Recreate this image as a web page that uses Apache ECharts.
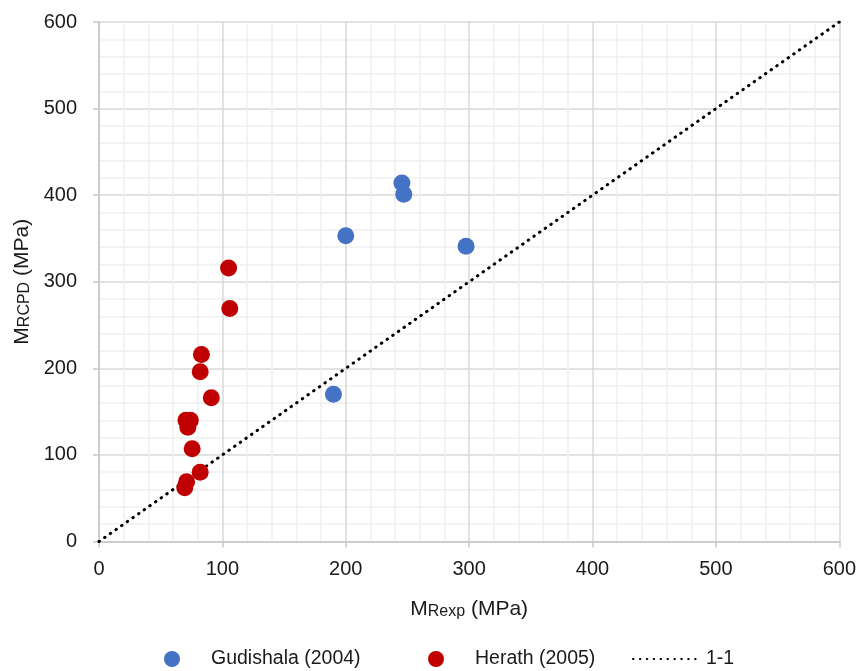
<!DOCTYPE html>
<html>
<head>
<meta charset="utf-8">
<script src="https://cdn.jsdelivr.net/npm/echarts@6/dist/echarts.min.js"></script>
<style>html,body{margin:0;padding:0;background:#fff}#c{width:859px;height:671px}</style>
</head>
<body>
<div id="c"></div>
<script>
const seriesNames = ['Gudishala (2004)', 'Herath (2005)', '1-1'];
const gudishalaX = [200, 245.5, 247, 297.5, 190];
const gudishalaY = [353, 414, 401, 341, 170];
const herathX = [105, 106, 83, 82, 91, 70.5, 74, 72, 75.5, 82, 71, 69.5];
const herathY = [316, 269, 216, 196, 166, 140, 140, 132, 107, 80, 69, 62];
const lineX = [0, 600];
const lineY = [0, 600];
const axisTicks = [0, 100, 200, 300, 400, 500, 600];

const zip = (a, b) => a.map((v, i) => [v, b[i]]);
const FONT = 'Liberation Sans, Arial, sans-serif';

function axisCommon() {
  return {
    min: axisTicks[0], max: axisTicks[axisTicks.length - 1], interval: axisTicks[1] - axisTicks[0],
    axisLine: { show: true, onZero: false, lineStyle: { color: '#c6c6c6', width: 1.5 } },
    axisTick: { show: true, inside: false, length: 6, lineStyle: { color: '#c6c6c6', width: 1.5 } },
    splitLine: { show: true, lineStyle: { color: '#d9d9d9', width: 1.5 } },
    minorTick: { show: false, splitNumber: 5 },
    minorSplitLine: { show: true, lineStyle: { color: '#efefef', width: 1.5 } },
    nameLocation: 'middle',
    nameTextStyle: {
      color: '#1a1a1a', fontSize: 21, fontFamily: FONT,
      rich: {
        m: { fontSize: 21, fontFamily: FONT, color: '#1a1a1a' },
        s: { fontSize: 16, fontFamily: FONT, color: '#1a1a1a', verticalAlign: 'bottom' }
      }
    }
  };
}

function legendAt(name, left, icon, extra) {
  return Object.assign({
    data: [name],
    left: left, top: 649, padding: 0,
    itemWidth: 68, itemHeight: 16, itemGap: 0,
    textStyle: { color: '#1a1a1a', fontSize: 19.5, fontFamily: FONT },
    symbolKeepAspect: true
  }, icon ? { icon: icon } : {}, extra || {});
}

const chart = echarts.init(document.getElementById('c'), null, { renderer: 'canvas' });
chart.setOption({
  animation: false,
  backgroundColor: '#ffffff',
  grid: { left: 99, right: 17, top: 22, bottom: 129.5, containLabel: false },
  xAxis: Object.assign(axisCommon(), {
    type: 'value', name: '{m|M}{s|Rexp} (MPa)', nameGap: 57,
    axisLabel: { color: '#1a1a1a', fontSize: 20, fontFamily: FONT, margin: 18 }
  }),
  yAxis: Object.assign(axisCommon(), {
    type: 'value', name: '{m|M}{s|RCPD} (MPa)', nameGap: 62,
    axisLabel: { color: '#1a1a1a', fontSize: 20, fontFamily: FONT, margin: 22 }
  }),
  legend: [
    legendAt(seriesNames[0], 164, 'circle'),
    legendAt(seriesNames[1], 428, 'circle'),
    legendAt({ name: seriesNames[2], itemStyle: { opacity: 0 } }, 632, null)
  ],
  series: [
    {
      name: seriesNames[2], type: 'line', data: zip(lineX, lineY), symbol: 'none', showSymbol: false, z: 1,
      itemStyle: { color: '#000' },
      lineStyle: { color: '#000', width: 3, type: [0.5, 6.4], cap: 'round' }
    },
    {
      name: seriesNames[0], type: 'scatter', data: zip(gudishalaX, gudishalaY), symbol: 'circle', symbolSize: 17, z: 3,
      itemStyle: { color: '#4472C4', opacity: 1 }
    },
    {
      name: seriesNames[1], type: 'scatter', data: zip(herathX, herathY), symbol: 'circle', symbolSize: 17, z: 3,
      itemStyle: { color: '#C00000', opacity: 1 }
    }
  ]
});
</script>
</body>
</html>
